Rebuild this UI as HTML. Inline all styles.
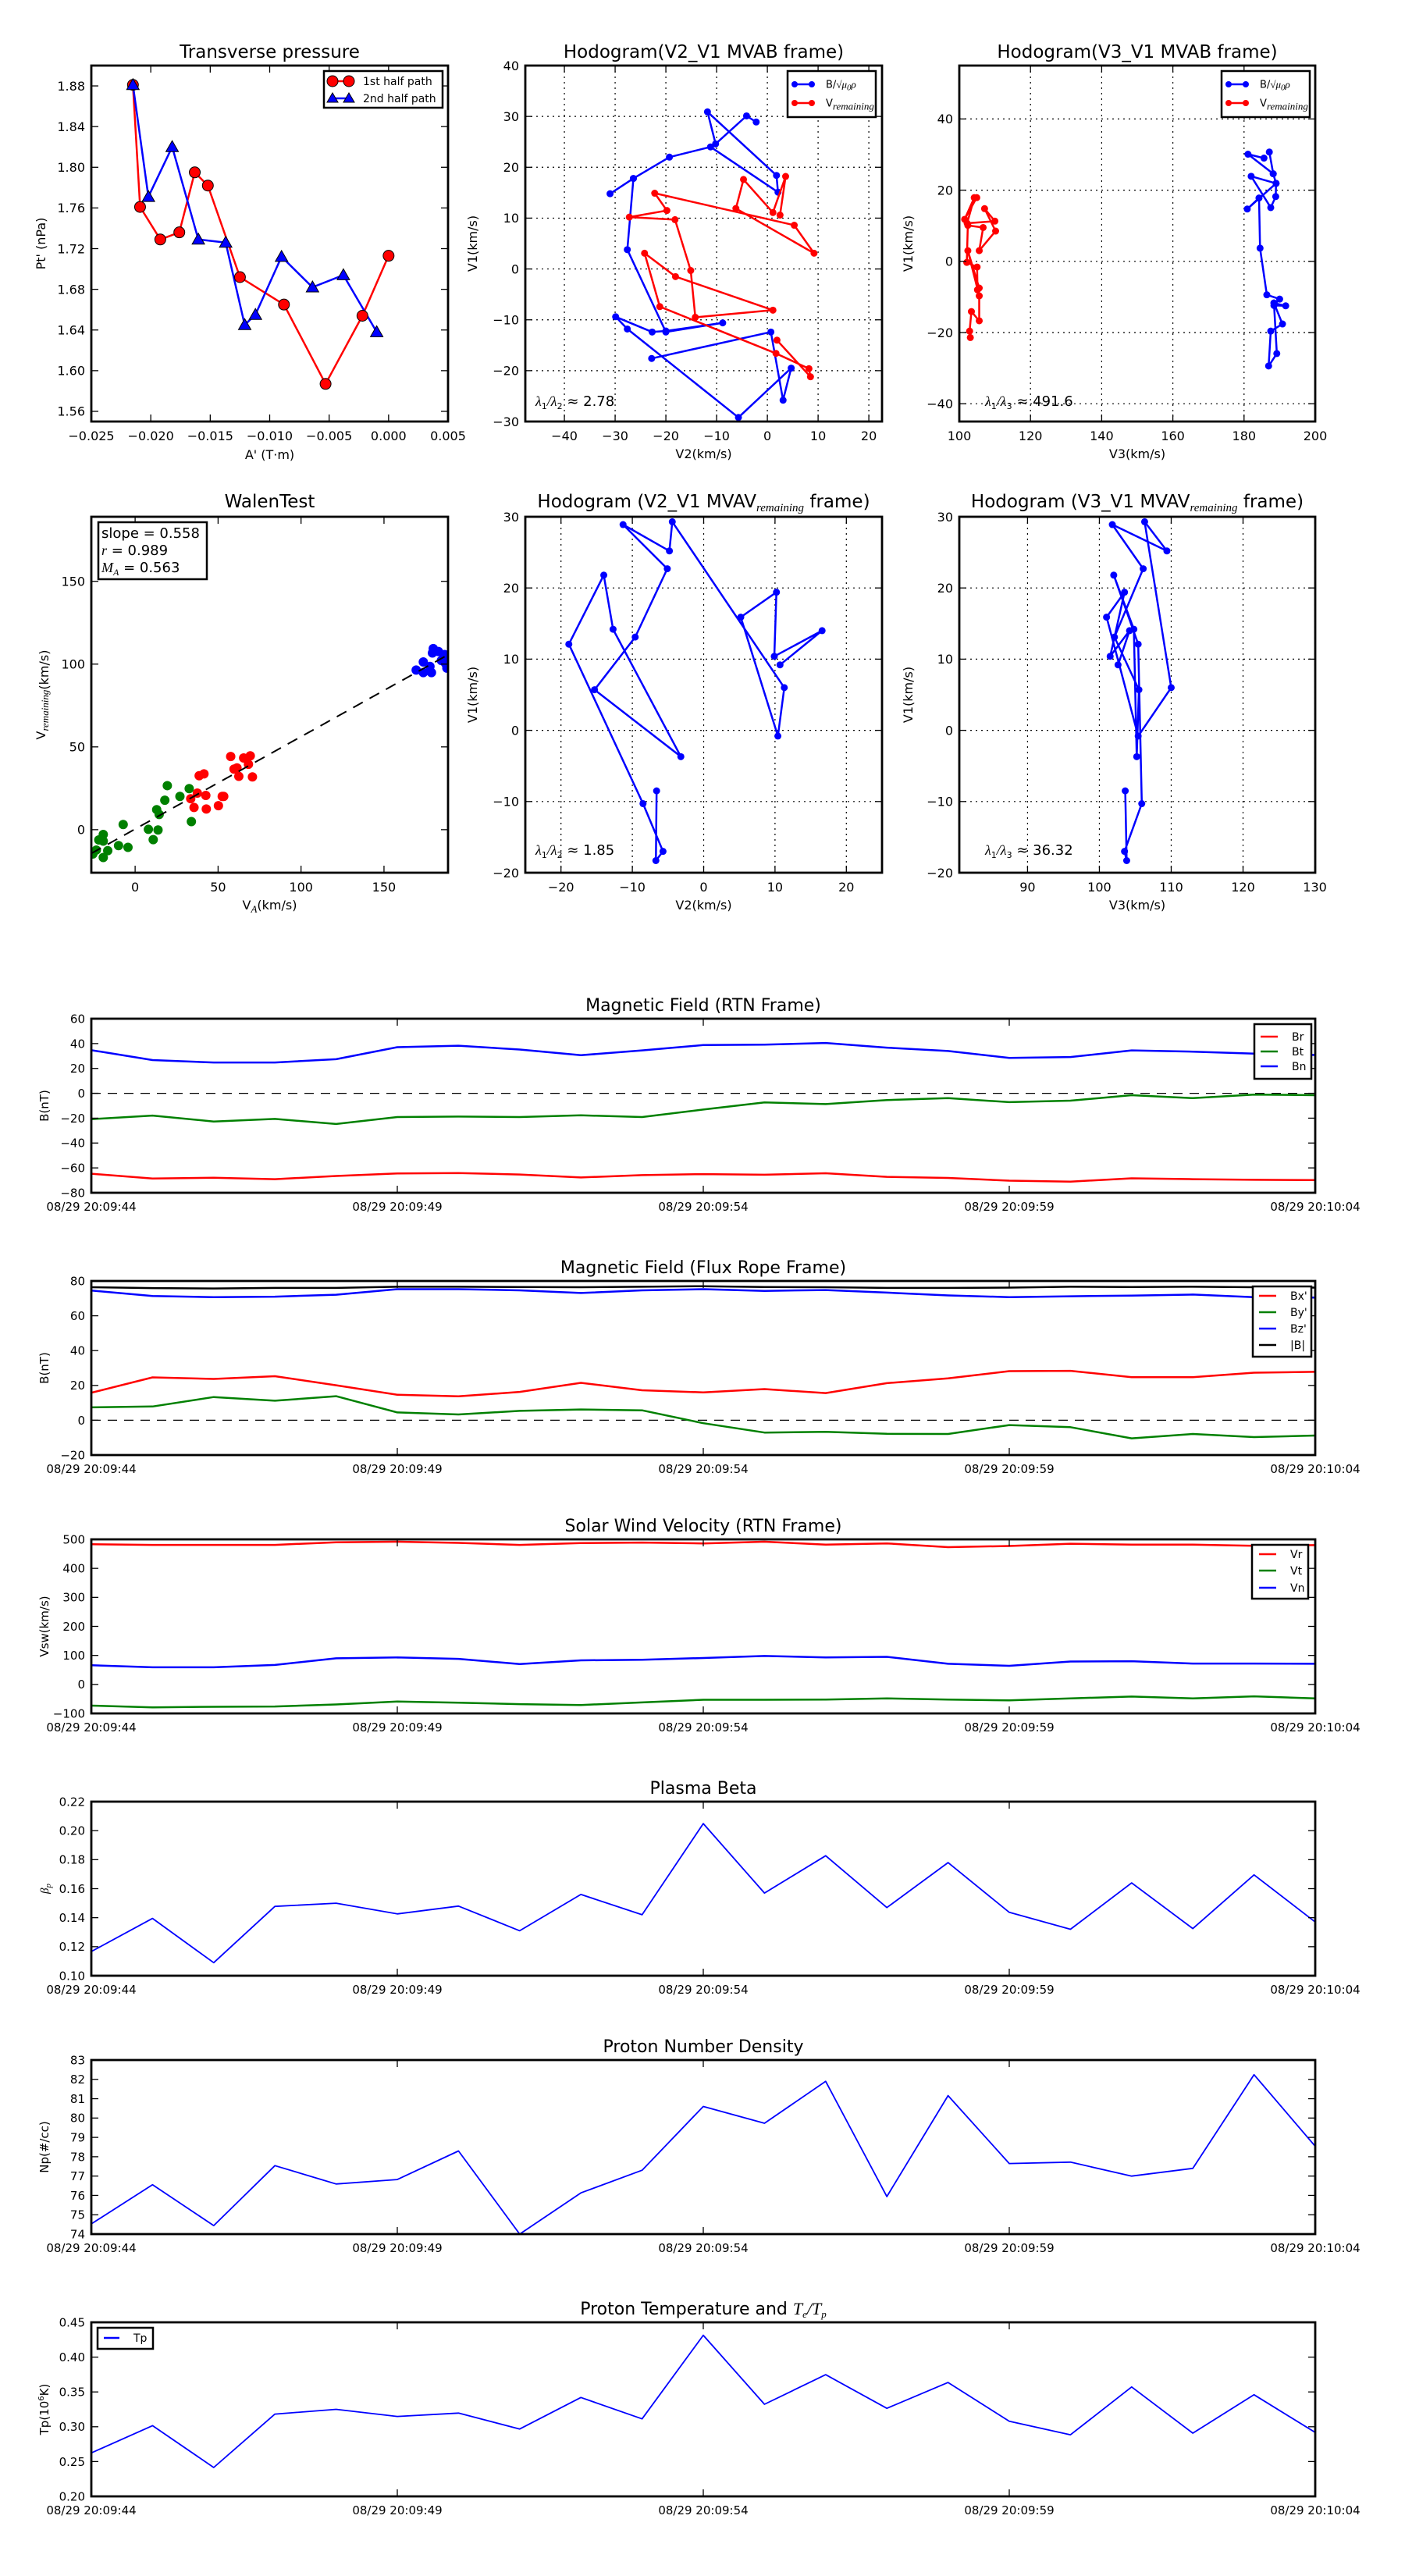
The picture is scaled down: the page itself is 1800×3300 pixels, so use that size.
<!DOCTYPE html>
<html><head><meta charset="utf-8"><title>Flux rope analysis</title>
<style>
body{margin:0;background:#fff}
svg{display:block;font-family:"DejaVu Sans","Liberation Sans",sans-serif}
</style></head>
<body>
<svg id="fig" width="1800" height="3300" viewBox="0 0 1800 3300"></svg>
<script>
// ---------- data ----------
const tpA1=[-0.0215,-0.0209,-0.0192,-0.0176,-0.0163,-0.0152,-0.0125,-0.0088,-0.0053,-0.0022,0.0000];
const tpP1=[1.881,1.761,1.729,1.736,1.795,1.782,1.692,1.665,1.587,1.654,1.713];
const tpA2=[-0.0215,-0.0202,-0.0182,-0.0160,-0.0137,-0.0121,-0.0112,-0.0090,-0.0064,-0.0038,-0.0010];
const tpP2=[1.881,1.771,1.820,1.729,1.726,1.645,1.655,1.712,1.682,1.694,1.638];

const hbV2=[-2.2,-4.1,-10.2,-11.8,1.8,2.1,-11.2,-19.3,-26.4,-31.0,-26.4,-27.6,-20.0,-8.8,-20.0,-22.7,-29.9,-27.6,-5.7,4.7,3.1,0.7,-22.8];
const hbV1=[28.9,30.1,24.6,30.9,18.4,15.1,24.0,22.0,17.8,14.8,17.8,3.8,-12.4,-10.6,-12.2,-12.4,-9.4,-11.8,-29.2,-19.5,-25.8,-12.4,-17.6];
const hrV2=[2.5,3.6,1.1,-4.7,-6.2,9.2,5.3,-22.2,-19.8,-27.2,-18.2,-15.1,-14.2,1.1,-18.1,-24.2,-21.2,1.7,8.2,8.5,1.9];
const hrV1=[10.6,18.2,11.1,17.6,11.9,3.1,8.6,14.9,11.5,10.2,9.7,-0.3,-9.5,-8.1,-1.5,3.1,-7.4,-16.6,-19.6,-21.2,-14.0];

const hbV3=[185.6,181.1,188.2,187.1,188.2,189.0,182.0,187.5,188.9,189.0,180.9,184.2,184.5,186.4,190.0,188.4,191.7,188.4,190.8,187.5,186.9,189.2,188.4];
const hbV1b=[29.0,30.1,24.6,30.7,24.6,21.9,23.9,15.1,18.2,21.9,14.7,17.8,3.7,-9.4,-10.6,-12.4,-12.5,-11.7,-17.6,-19.6,-29.4,-25.9,-11.7];
const hrV3=[104.9,101.5,104.2,102.2,110.0,107.1,110.2,105.6,106.7,102.4,102.1,105.0,105.1,105.6,102.4,105.6,105.6,103.4,102.9,103.1];
const hrV1b=[17.9,11.8,17.9,10.7,11.3,14.8,8.5,3.0,9.5,10.1,-0.3,-1.6,-8.0,-7.5,3.0,-9.7,-16.7,-14.1,-19.6,-21.4];

const walGx=[-25.5,-23.4,-21.9,-19.2,-19.2,-19.2,-16.5,-10.0,-7.2,-4.3,8.0,10.9,13.8,13.0,14.5,17.9,19.4,27.0,32.6,33.9];
const walGy=[-14.7,-12.3,-6.2,-2.9,-6.9,-16.8,-12.7,-9.6,3.1,-10.7,0.2,-6.0,-0.2,12.1,9.2,17.8,26.6,20.1,24.8,4.9];
const walRx=[33.5,35.5,37.5,38.6,41.5,42.6,42.9,50.2,52.5,53.4,57.6,59.6,61.4,62.5,65.4,68.3,69.4,70.7];
const walRy=[18.7,13.4,22.1,32.6,33.7,20.7,12.5,14.5,20.1,20.1,44.2,36.6,37.3,32.2,43.3,39.5,44.6,31.9];
const walBx=[169.4,173.7,173.7,177.7,178.6,179.7,179.2,182.8,184.6,186.0,187.1,187.9,186.5];
const walBy=[96.4,101.3,94.9,98.6,94.9,109.4,106.7,107.6,102.2,104.0,100.4,97.6,105.8];
const walSlope=0.558, walIntercept=0.4;
const walFitX=[-26.4,188.6];

const mvV2=[-6.6,-6.7,-5.7,-8.5,-18.9,-14.0,-12.7,-3.2,-15.3,-9.6,-5.1,-11.3,-4.8,-4.4,11.3,10.4,5.2,10.2,9.9,16.6,10.7];
const mvV1=[-8.5,-18.3,-17.0,-10.3,12.1,21.8,14.2,-3.7,5.7,13.1,22.7,28.9,25.2,29.3,6.0,-0.8,15.9,19.4,10.4,14.0,9.2];
const mvV3=[103.6,103.8,103.5,105.9,105.4,102.0,104.8,105.2,105.5,102.1,106.1,101.8,109.4,106.3,110.0,105.4,101.0,103.5,101.5,104.2,102.6];

const tSec=[0,1,2,3,4,5,6,7,8,9,10,11,12,13,14,15,16,17,18,19,20];
const timeTicks=[0,5,10,15,20];
const timeLabels=["08/29 20:09:44","08/29 20:09:49","08/29 20:09:54","08/29 20:09:59","08/29 20:10:04"];
const Br=[-64.7,-68.6,-67.9,-69.1,-66.5,-64.5,-64.1,-65.3,-67.7,-65.8,-65.0,-65.5,-64.3,-67.2,-68.1,-70.3,-71.0,-68.4,-69.1,-69.6,-69.8];
const Bt=[-20.8,-17.9,-22.7,-20.6,-24.7,-19.1,-18.7,-19.1,-17.7,-19.1,-13.1,-7.3,-8.7,-5.4,-3.9,-7.1,-5.9,-1.5,-3.9,-1.0,-1.5];
const Bn=[34.7,26.7,24.8,24.8,27.4,37.1,38.3,35.2,30.6,34.5,38.8,39.1,40.5,36.7,34.0,28.5,29.2,34.5,33.5,31.9,30.8];
const Bxp=[15.8,24.6,23.7,25.3,20.1,14.6,13.7,16.3,21.5,17.2,16.0,17.9,15.6,21.3,24.1,28.2,28.4,24.7,24.7,27.3,27.8];
const Byp=[7.4,7.9,13.3,11.2,13.8,4.5,3.3,5.4,6.2,5.7,-1.7,-7.1,-6.7,-7.8,-7.9,-2.8,-4.0,-10.4,-7.9,-9.7,-8.8];
const Bzp=[74.5,71.4,70.7,71.0,72.1,75.3,75.3,74.6,73.1,74.6,75.3,74.3,74.8,73.3,71.7,70.7,71.2,71.6,72.2,70.7,70.5];
const Bmag=[76.4,75.9,75.7,76.0,76.0,76.7,76.7,76.5,76.4,76.7,77.0,76.5,76.4,76.0,76.0,76.2,76.7,76.5,76.7,76.4,76.2];
const Vr=[483,481,481,481,490,492,488,481,487,489,486,492,482,486,473,477,485,482,482,478,480];
const Vt=[-73,-79,-77,-76,-69,-59,-63,-68,-71,-62,-53,-53,-52,-48,-52,-55,-48,-42,-48,-41,-48];
const Vn=[66,59,59,67,90,93,88,70,83,85,91,98,93,95,71,64,79,80,72,72,71];
const beta=[0.1167,0.1395,0.109,0.1478,0.150,0.1426,0.148,0.131,0.156,0.142,0.2049,0.157,0.1827,0.147,0.178,0.1437,0.132,0.164,0.1325,0.1695,0.137];
const Np=[74.53,76.55,74.44,77.54,76.59,76.82,78.3,74.0,76.13,77.3,80.6,79.73,81.9,75.94,81.16,77.65,77.72,77.0,77.4,82.24,78.54];
const Tp=[0.2625,0.3016,0.2415,0.3182,0.325,0.3148,0.3196,0.2967,0.342,0.3113,0.4314,0.3323,0.3748,0.3265,0.3636,0.3079,0.2884,0.3572,0.2908,0.346,0.2918];

// ---------- helpers ----------
const NS='http://www.w3.org/2000/svg';
const svg=document.getElementById('fig');
function mk(tag,attrs,parent){const e=document.createElementNS(NS,tag);for(const k in attrs)e.setAttribute(k,attrs[k]);(parent||svg).appendChild(e);return e;}
function fmt(v,d){return (v<0?'\u2212':'')+Math.abs(v).toFixed(d);}
let clipN=0;
function axes(o){
  const g=mk('g',{});
  
  
  o.g=g;
  o.sx=v=>o.x0+(v-o.xmin)/(o.xmax-o.xmin)*(o.x1-o.x0);
  o.sy=v=>o.y1-(v-o.ymin)/(o.ymax-o.ymin)*(o.y1-o.y0);
  const id='clip'+(clipN++);
  const cp=mk('clipPath',{id:id},g);
  mk('rect',{x:o.x0,y:o.y0,width:o.x1-o.x0,height:o.y1-o.y0},cp);
  o.grid=mk('g',{},g);
  o.data=mk('g',{'clip-path':'url(#'+id+')'},g);
  o.deco=mk('g',{},g);
  return o;
}
function xTicks(o,vals,labels,fs,grid){
  vals.forEach((v,i)=>{
    const x=o.sx(v);
    if(grid){const gl=mk('line',{x1:x,x2:x,y1:o.y0,y2:o.y1,stroke:'#000','stroke-width':1.2,'stroke-dasharray':'2,5'},o.grid);
      
      }
    mk('line',{x1:x,x2:x,y1:o.y1,y2:o.y1-9,stroke:'#000','stroke-width':1.3},o.deco);
    mk('line',{x1:x,x2:x,y1:o.y0,y2:o.y0+9,stroke:'#000','stroke-width':1.3},o.deco);
    const t=mk('text',{x:x,y:o.y1+fs+8,'font-size':fs,'text-anchor':'middle'},o.deco);
    t.textContent=labels[i];
    
    
  });
}
function yTicks(o,vals,labels,fs,grid){
  vals.forEach((v,i)=>{
    const y=o.sy(v);
    if(grid){const gl=mk('line',{x1:o.x0,x2:o.x1,y1:y,y2:y,stroke:'#000','stroke-width':1.2,'stroke-dasharray':'2,5'},o.grid);
      
      }
    mk('line',{x1:o.x0,x2:o.x0+9,y1:y,y2:y,stroke:'#000','stroke-width':1.3},o.deco);
    mk('line',{x1:o.x1,x2:o.x1-9,y1:y,y2:y,stroke:'#000','stroke-width':1.3},o.deco);
    const t=mk('text',{x:o.x0-8,y:y+fs*0.36,'font-size':fs,'text-anchor':'end'},o.deco);
    t.textContent=labels[i];
    
    
  });
}
function frame(o){
  const r=mk('rect',{x:o.x0,y:o.y0,width:o.x1-o.x0,height:o.y1-o.y0,fill:'none',stroke:'#000','stroke-width':2.8},o.deco);
  
  
}
function title(o,html,fs,y){
  const t=mk('text',{x:(o.x0+o.x1)/2,y:y,'font-size':fs,'text-anchor':'middle'},o.deco);
  t.innerHTML=html;
  
  
}
function xlabel(o,html,fs,y){
  const t=mk('text',{x:(o.x0+o.x1)/2,y:y,'font-size':fs,'text-anchor':'middle'},o.deco);
  t.innerHTML=html;
  
  
}
function ylabel(o,html,fs,x){
  const cy=(o.y0+o.y1)/2;
  const t=mk('text',{x:x,y:cy,'font-size':fs,'text-anchor':'middle',transform:'rotate(-90 '+x+' '+cy+')'},o.deco);
  t.innerHTML=html;
  
  
}
function line(o,xs,ys,color,w,name){
  let d='';xs.forEach((v,i)=>{d+=(i?'L':'M')+o.sx(v).toFixed(1)+' '+o.sy(ys[i]).toFixed(1);});
  const p=mk('path',{d:d,fill:'none',stroke:color,'stroke-width':w,'stroke-linejoin':'round'},o.data);
  
  
  return p;
}
function dots(o,xs,ys,color,r,stroke,name){
  xs.forEach((v,i)=>{
    const c=mk('circle',{cx:o.sx(v),cy:o.sy(ys[i]),r:r,fill:color,stroke:stroke||'none','stroke-width':1},o.data);
    
    
  });
}
function tris(o,xs,ys,color,s,name){
  xs.forEach((v,i)=>{
    const x=o.sx(v),y=o.sy(ys[i]);
    const p=mk('path',{d:`M${x} ${y-s}L${x+s} ${y+s*0.75}L${x-s} ${y+s*0.75}Z`,fill:color,stroke:'#000','stroke-width':1},o.data);
    
    
  });
}
function range(a,b,s){const r=[];for(let v=a;v<=b+s*1e-6;v+=s)r.push(+v.toFixed(6));return r;}
function legendBox(o,x,y,w,h){
  const r=mk('rect',{x:x,y:y,width:w,height:h,fill:'#fff',stroke:'#000','stroke-width':2.5},o.deco);
  
  
}
function legendEntry(o,x,y,color,label,fs,marker,len){
  len=len||40;
  mk('line',{x1:x,x2:x+len,y1:y,y2:y,stroke:color,'stroke-width':2.5},o.deco);
  if(marker==='dot'){mk('circle',{cx:x,cy:y,r:4,fill:color},o.deco);mk('circle',{cx:x+len,cy:y,r:4,fill:color},o.deco);}
  if(marker==='bigdot'){mk('circle',{cx:x,cy:y,r:7,fill:color,stroke:'#000'},o.deco);mk('circle',{cx:x+len,cy:y,r:7,fill:color,stroke:'#000'},o.deco);}
  if(marker==='tri'){[x,x+len].forEach(cx=>mk('path',{d:`M${cx} ${y-7}L${cx+7} ${y+5}L${cx-7} ${y+5}Z`,fill:color,stroke:'#000'},o.deco));}
  const t=mk('text',{x:x+len+18,y:y+fs*0.36,'font-size':fs},o.deco);
  t.innerHTML=label;
  
  
}
function note(o,x,y,html,fs){
  const t=mk('text',{x:x,y:y,'font-size':fs},o.deco);
  t.innerHTML=html;
  
  
}
const SUBR='<tspan font-family="Liberation Serif,serif" font-style="italic" font-size="13" dy="4">remaining</tspan><tspan dy="-4"></tspan>';
const BLEG='B/<tspan font-family="Liberation Serif,serif" font-style="italic">\u221A\u03BC<tspan font-size="11" dy="3">0</tspan><tspan dy="-3">\u03C1</tspan></tspan>';
const FS=16;

// ---------- Row 1 ----------
{const o=axes({name:'transverse-pressure-chart',x0:117,x1:574,y0:84,y1:540,xmin:-0.025,xmax:0.005,ymin:1.55,ymax:1.90});
 const xv=range(-0.025,0.005,0.005); xTicks(o,xv,xv.map(v=>fmt(v,3)),FS,false);
 const yv=range(1.56,1.88,0.04); yTicks(o,yv,yv.map(v=>fmt(v,2)),FS,false);
 line(o,tpA1,tpP1,'#f00',2.5,'first-half-path-line'); line(o,tpA2,tpP2,'#00f',2.5,'second-half-path-line');
 dots(o,tpA1,tpP1,'#f00',7,'#000','first-half-point'); tris(o,tpA2,tpP2,'#00f',8,'second-half-point');
 frame(o); title(o,'Transverse pressure',23,74); xlabel(o,"A' (T\u00B7m)",FS,588); ylabel(o,"Pt' (nPa)",FS,58);
 legendBox(o,415,91,152,47); legendEntry(o,426,104,'#f00','1st half path',14,'bigdot',21); legendEntry(o,426,126,'#00f','2nd half path',14,'tri',21);
}
{const o=axes({name:'hodogram-v2-v1-mvab',x0:673,x1:1130,y0:84,y1:540,xmin:-47.7,xmax:22.6,ymin:-30,ymax:40});
 const xv=range(-40,20,10); xTicks(o,xv,xv.map(v=>fmt(v,0)),FS,true);
 const yv=range(-30,40,10); yTicks(o,yv,yv.map(v=>fmt(v,0)),FS,true);
 line(o,hbV2,hbV1,'#00f',2.5,'b-alfven-hodogram'); dots(o,hbV2,hbV1,'#00f',4.5,null,'b-point');
 line(o,hrV2,hrV1,'#f00',2.5,'v-remaining-hodogram'); dots(o,hrV2,hrV1,'#f00',4.5,null,'v-point');
 frame(o); title(o,'Hodogram(V2_V1 MVAB frame)',23,74); xlabel(o,'V2(km/s)',FS,587); ylabel(o,'V1(km/s)',FS,611);
 legendBox(o,1009,91,113,59); legendEntry(o,1018,108,'#00f',BLEG,13,'dot',22); legendEntry(o,1018,132,'#f00','V'+SUBR,13,'dot',22);
 note(o,686,520,'<tspan font-family="Liberation Serif,serif" font-style="italic">\u03BB</tspan><tspan font-size="11" dy="4">1</tspan><tspan dy="-4" font-family="Liberation Serif,serif" font-style="italic">/\u03BB</tspan><tspan font-size="11" dy="4">2</tspan><tspan dy="-4"> \u2248 2.78</tspan>',18);
}
{const o=axes({name:'hodogram-v3-v1-mvab',x0:1229,x1:1685,y0:84,y1:540,xmin:100,xmax:200,ymin:-45,ymax:55});
 const xv=range(100,200,20); xTicks(o,xv,xv.map(v=>fmt(v,0)),FS,true);
 const yv=range(-40,40,20); yTicks(o,yv,yv.map(v=>fmt(v,0)),FS,true);
 line(o,hbV3,hbV1b,'#00f',2.5,'b-alfven-hodogram'); dots(o,hbV3,hbV1b,'#00f',4.5,null,'b-point');
 line(o,hrV3,hrV1b,'#f00',2.5,'v-remaining-hodogram'); dots(o,hrV3,hrV1b,'#f00',4.5,null,'v-point');
 frame(o); title(o,'Hodogram(V3_V1 MVAB frame)',23,74); xlabel(o,'V3(km/s)',FS,587); ylabel(o,'V1(km/s)',FS,1169);
 legendBox(o,1565,91,113,59); legendEntry(o,1574,108,'#00f',BLEG,13,'dot',22); legendEntry(o,1574,132,'#f00','V'+SUBR,13,'dot',22);
 note(o,1262,520,'<tspan font-family="Liberation Serif,serif" font-style="italic">\u03BB</tspan><tspan font-size="11" dy="4">1</tspan><tspan dy="-4" font-family="Liberation Serif,serif" font-style="italic">/\u03BB</tspan><tspan font-size="11" dy="4">3</tspan><tspan dy="-4"> \u2248 491.6</tspan>',18);
}
// ---------- Row 2 ----------
{const o=axes({name:'walen-test-chart',x0:117,x1:574,y0:662,y1:1118,xmin:-26.4,xmax:188.6,ymin:-26,ymax:189});
 const xv=[0,50,100,150]; xTicks(o,xv,xv.map(v=>fmt(v,0)),FS,false);
 const yv=[0,50,100,150]; yTicks(o,yv,yv.map(v=>fmt(v,0)),FS,false);
 dots(o,walGx,walGy,'#008000',6,null,'walen-green-point');
 dots(o,walRx,walRy,'#f00',6,null,'walen-red-point');
 dots(o,walBx,walBy,'#00f',6,null,'walen-blue-point');
 const fl=line(o,walFitX,walFitX.map(v=>walSlope*v+walIntercept),'#000',2,'walen-fit-line'); fl.setAttribute('stroke-dasharray','14,10');
 frame(o); title(o,'WalenTest',23,650); xlabel(o,'V<tspan font-family="Liberation Serif,serif" font-style="italic" font-size="13" dy="4">A</tspan><tspan dy="-4">(km/s)</tspan>',FS,1165);
 ylabel(o,'V'+SUBR+'(km/s)',FS,58);
 legendBox(o,126,669,139,73);
 const tb=mk('text',{x:130,y:689,'font-size':18},o.deco); tb.textContent='slope = 0.558';
  
 const tr=mk('text',{x:130,y:711,'font-size':18},o.deco); tr.innerHTML='<tspan font-family="Liberation Serif,serif" font-style="italic">r</tspan> = 0.989';
  
 const tm=mk('text',{x:130,y:733,'font-size':18},o.deco); tm.innerHTML='<tspan font-family="Liberation Serif,serif" font-style="italic">M<tspan font-size="12" dy="4">A</tspan></tspan><tspan dy="-4"> = 0.563</tspan>';
  
}
{const o=axes({name:'hodogram-v2-v1-mvav',x0:673,x1:1130,y0:662,y1:1118,xmin:-25,xmax:25,ymin:-20,ymax:30});
 const xv=range(-20,20,10); xTicks(o,xv,xv.map(v=>fmt(v,0)),FS,true);
 const yv=range(-20,30,10); yTicks(o,yv,yv.map(v=>fmt(v,0)),FS,true);
 line(o,mvV2,mvV1,'#00f',2.5,'mvav-hodogram-line'); dots(o,mvV2,mvV1,'#00f',4.5,null,'mvav-point');
 frame(o); title(o,'Hodogram (V2_V1 MVAV<tspan font-family="Liberation Serif,serif" font-style="italic" font-size="15" dy="5">remaining</tspan><tspan dy="-5"> frame)</tspan>',23,650);
 xlabel(o,'V2(km/s)',FS,1165); ylabel(o,'V1(km/s)',FS,611);
 note(o,686,1095,'<tspan font-family="Liberation Serif,serif" font-style="italic">\u03BB</tspan><tspan font-size="11" dy="4">1</tspan><tspan dy="-4" font-family="Liberation Serif,serif" font-style="italic">/\u03BB</tspan><tspan font-size="11" dy="4">2</tspan><tspan dy="-4"> \u2248 1.85</tspan>',18);
}
{const o=axes({name:'hodogram-v3-v1-mvav',x0:1229,x1:1685,y0:662,y1:1118,xmin:80.5,xmax:130.05,ymin:-20,ymax:30});
 const xv=range(90,130,10); xTicks(o,xv,xv.map(v=>fmt(v,0)),FS,true);
 const yv=range(-20,30,10); yTicks(o,yv,yv.map(v=>fmt(v,0)),FS,true);
 line(o,mvV3,mvV1,'#00f',2.5,'mvav-hodogram-line'); dots(o,mvV3,mvV1,'#00f',4.5,null,'mvav-point');
 frame(o); title(o,'Hodogram (V3_V1 MVAV<tspan font-family="Liberation Serif,serif" font-style="italic" font-size="15" dy="5">remaining</tspan><tspan dy="-5"> frame)</tspan>',23,650);
 xlabel(o,'V3(km/s)',FS,1165); ylabel(o,'V1(km/s)',FS,1169);
 note(o,1262,1095,'<tspan font-family="Liberation Serif,serif" font-style="italic">\u03BB</tspan><tspan font-size="11" dy="4">1</tspan><tspan dy="-4" font-family="Liberation Serif,serif" font-style="italic">/\u03BB</tspan><tspan font-size="11" dy="4">3</tspan><tspan dy="-4"> \u2248 36.32</tspan>',18);
}
// ---------- time series ----------
function tpanel(name,top,ymin,ymax,ystep,dec,ttl,ylab){
  const o=axes({name:name,x0:117,x1:1685,y0:top,y1:top+223,xmin:0,xmax:20,ymin:ymin,ymax:ymax});
  xTicks(o,timeTicks,timeLabels,15,false);
  const yv=range(ymin,ymax,ystep); yTicks(o,yv,yv.map(v=>fmt(v,dec)),15,false);
  title(o,ttl,22,top-10); ylabel(o,ylab,15,62);
  return o;
}
function zeroLine(o){const z=line(o,[0,20],[0,0],'#000',1.3,'zero-line'); z.setAttribute('stroke-dasharray','12,9');}
{const o=tpanel('magnetic-field-rtn-chart',1305,-80,60,20,0,'Magnetic Field (RTN Frame)','B(nT)');
 zeroLine(o); line(o,tSec,Br,'#f00',2.5,'br-line'); line(o,tSec,Bt,'#008000',2.5,'bt-line'); line(o,tSec,Bn,'#00f',2.5,'bn-line');
 frame(o); legendBox(o,1607,1312,73,70);
 legendEntry(o,1615,1328,'#f00','Br',14,null,22); legendEntry(o,1615,1347,'#008000','Bt',14,null,22); legendEntry(o,1615,1366,'#00f','Bn',14,null,22);
}
{const o=tpanel('magnetic-field-flux-rope-chart',1641,-20,80,20,0,'Magnetic Field (Flux Rope Frame)','B(nT)');
 zeroLine(o); line(o,tSec,Bxp,'#f00',2.5,'bx-prime-line'); line(o,tSec,Byp,'#008000',2.5,'by-prime-line'); line(o,tSec,Bzp,'#00f',2.5,'bz-prime-line'); line(o,tSec,Bmag,'#000',2.5,'b-magnitude-line');
 frame(o); legendBox(o,1605,1648,75,90);
 legendEntry(o,1613,1660,'#f00',"Bx'",14,null,22); legendEntry(o,1613,1681,'#008000',"By'",14,null,22); legendEntry(o,1613,1702,'#00f',"Bz'",14,null,22); legendEntry(o,1613,1723,'#000','|B|',14,null,22);
}
{const o=tpanel('solar-wind-velocity-chart',1972,-100,500,100,0,'Solar Wind Velocity (RTN Frame)','Vsw(km/s)');
 line(o,tSec,Vr,'#f00',2.5,'vr-line'); line(o,tSec,Vt,'#008000',2.5,'vt-line'); line(o,tSec,Vn,'#00f',2.5,'vn-line');
 frame(o); legendBox(o,1604,1979,72,69);
 legendEntry(o,1613,1991,'#f00','Vr',14,null,22); legendEntry(o,1613,2012,'#008000','Vt',14,null,22); legendEntry(o,1613,2034,'#00f','Vn',14,null,22);
}
{const o=tpanel('plasma-beta-chart',2308,0.10,0.22,0.02,2,'Plasma Beta','<tspan font-family="Liberation Serif,serif" font-style="italic">\u03B2<tspan font-size="11" dy="3">p</tspan></tspan>');
 line(o,tSec,beta,'#00f',1.8,'plasma-beta-line'); frame(o);
}
{const o=tpanel('proton-density-chart',2639,74,83,1,0,'Proton Number Density','Np(#/cc)');
 line(o,tSec,Np,'#00f',1.8,'proton-density-line'); frame(o);
}
{const o=tpanel('proton-temperature-chart',2975,0.20,0.45,0.05,2,'Proton Temperature and <tspan font-family="Liberation Serif,serif" font-style="italic">T<tspan font-size="13" dy="4">e</tspan><tspan dy="-4">/T</tspan><tspan font-size="13" dy="4">p</tspan></tspan>','Tp(10<tspan font-size="10" dy="-6">6</tspan><tspan dy="6">K)</tspan>');
 line(o,tSec,Tp,'#00f',1.8,'proton-temperature-line'); frame(o);
 legendBox(o,125,2982,71,27); legendEntry(o,133,2995,'#00f','Tp',14,null,20);
}
</script>
</body></html>
